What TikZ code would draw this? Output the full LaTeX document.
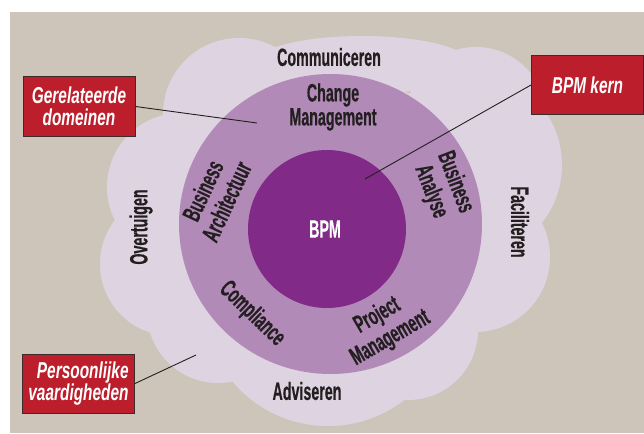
\documentclass[tikz,border=0pt]{standalone}
\usepackage{fontspec}
\usepackage{tikz}
\newfontfamily\condfont{Liberation Sans}[FakeStretch=0.57, BoldFeatures={FakeBold=0.4}]
\newfontfamily\tagfont{Liberation Sans}[FakeStretch=0.67]
\definecolor{sand}{HTML}{CDC5BA}
\definecolor{cloudlila}{HTML}{DED4E1}
\definecolor{ringlila}{HTML}{B28AB8}
\definecolor{corepurple}{HTML}{812A87}
\definecolor{tagred}{HTML}{BD1E2C}
\definecolor{tagline}{HTML}{3C2A2C}
\definecolor{ink}{HTML}{231F20}

\begin{document}
\begin{tikzpicture}[x=1pt,y=-1pt,
  lbl/.style={font=\condfont\bfseries\fontsize{25}{24}\selectfont, text=ink, inner sep=0pt, align=center},
  wide/.style={font=\condfont\bfseries\fontsize{25}{26}\selectfont},
  tag/.style={draw=tagline, fill=tagred, line width=1pt, minimum width=112pt, minimum height=59pt,
    inner sep=0pt, text=white, font=\tagfont\bfseries\itshape\fontsize{23}{22}\selectfont},
  pointer/.style={draw=ink, line width=0.9pt}]
\useasboundingbox (0,0) rectangle (644,433);
\fill[sand] (10,12) rectangle (644,433);

% cloud of personal skills
\fill[cloudlila] (330,230) ellipse [x radius=190pt, y radius=150pt]
  (362,65) ellipse [x radius=110pt, y radius=29pt]
  (239,114) circle [radius=76pt] (476,117) circle [radius=70pt]
  (469,165) circle [radius=93pt] (475,257) circle [radius=75pt]
  (408,330) circle [radius=70pt] (328,301) circle [radius=125pt]
  (218,312) circle [radius=71pt] (172,264) circle [radius=72pt]
  (181,187) circle [radius=74pt];

% related domains and core
\fill[ringlila] (330.5,224) ellipse [x radius=151.5pt, y radius=150pt];
\fill[corepurple] (327,229) circle [radius=79pt];

\node[lbl] (comm) at (329,57) {Communiceren};
\node[lbl] (overt) at (141,227) [rotate=90] {Overtuigen};
\node[lbl] (facil) at (520,222) [rotate=-90] {Faciliteren};
\node[lbl] (advis) at (307,391) {Adviseren};

\node[lbl] (change) at (333,107) {Change\\Management};
\node[lbl, wide] (barch) at (214.5,196) [rotate=65] {Business\\Architectuur};
\node[lbl, wide] (banal) at (443,187) [rotate=-69] {Business\\Analyse};
\node[lbl] (compl) at (252,314) [rotate=-44] {Compliance};
\node[lbl, wide] (projm) at (384,327) [rotate=30] {Project\\Management};
\node[lbl, text=white] (bpm) at (325,229) {BPM};

\node[tag, align=center] (domeinen) at (79,106.5) {Gerelateerde\\domeinen};
\node[tag, align=right] (vaardig) at (78.5,383.5) {Persoonlijke\\vaardigheden};
\node[tag] (kern) at (587.5,85) {BPM kern};

\coordinate (domeinenend) at (257,123);
\coordinate (vaardigend) at (196,355);
\coordinate (kernend) at (365,179);
\draw[pointer] (domeinen.east) -- (domeinenend);
\draw[pointer] (vaardig.east) -- (vaardigend);
\draw[pointer] (kern.west) -- (kernend);
\end{tikzpicture}
\end{document}
